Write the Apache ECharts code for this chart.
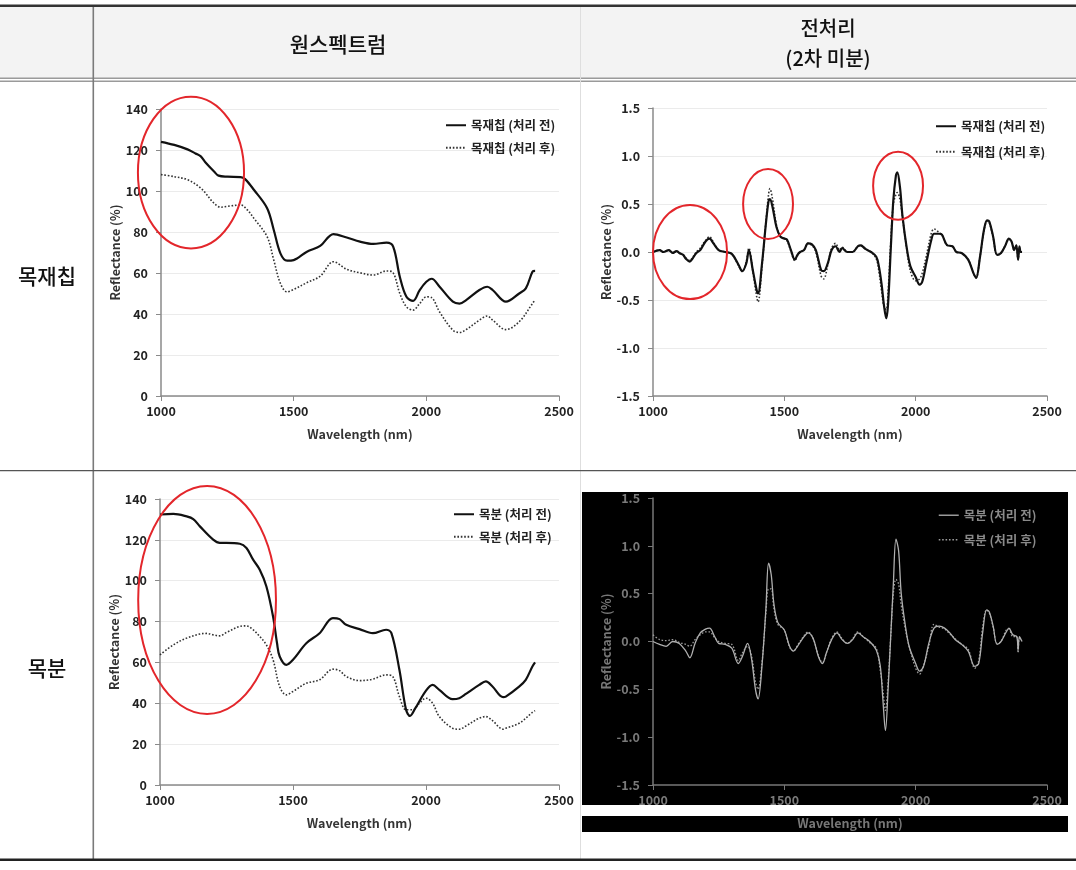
<!DOCTYPE html>
<html><head><meta charset="utf-8">
<script src="https://cdn.jsdelivr.net/npm/echarts@6/dist/echarts.min.js"></script>
<style>html,body{margin:0;padding:0;background:#fff}#c{width:1076px;height:870px}</style>
</head><body><div id="c"></div>
<script>
// ---------- DATA ----------
const colHeaders = ['원스펙트럼', '전처리', '(2차 미분)'];
const rowHeaders = ['목재칩', '목분'];
const xAxisTicks = { min: 1000, max: 2500, interval: 500 };
const rawYTicks = { min: 0, max: 140, interval: 20 };
const derivYTicks = { min: -1.5, max: 1.5, interval: 0.5 };
const seriesNames = ['목재칩 (처리 전)', '목재칩 (처리 후)', '목분 (처리 전)', '목분 (처리 후)'];

// Raw spectrum, wood chip (before)
const chipRawBeforeWl = [1000,1050,1100,1130,1150,1167,1200,1217,1250,1300,1317,1350,1400,1425,1450,1475,1500,1550,1600,1650,1700,1750,1800,1850,1875,1900,1925,1950,1975,2000,2020,2050,2100,2125,2150,2200,2230,2250,2300,2350,2375,2400,2410];
const chipRawBeforeVal = [124,122.5,120.3,118.3,116.9,114,109.5,107.5,107,106.8,105.8,100.6,91.6,81,69.6,66,66.3,70.4,73.2,79,77.3,75.3,74.2,74.8,72.9,58.2,48.4,46.4,51.7,55.7,57.2,53.3,46,45.1,46.8,51.7,53.3,51.7,46,50,52.5,60.6,61];
// Raw spectrum, wood chip (after)
const chipRawAfterWl = [1000,1050,1100,1150,1200,1225,1250,1300,1325,1350,1400,1425,1450,1475,1500,1550,1600,1650,1700,1750,1800,1850,1875,1900,1925,1950,1975,2000,2020,2050,2100,2125,2150,2200,2230,2250,2300,2350,2400,2410];
const chipRawAfterVal = [108,107,105.5,101.4,94,92.1,92.5,93.2,90.8,86.7,77.7,66.3,54.9,50.8,52,55.3,58.5,65.5,61.8,60.1,59,61,60.1,50,43.5,41.9,45.1,48.4,48,41,32.1,31,32.4,37,39,37,32.4,36.2,45.1,47];
// Raw spectrum, wood powder (before)
const powRawBeforeWl = [1000,1050,1100,1125,1150,1200,1225,1250,1300,1325,1350,1375,1400,1425,1440,1450,1475,1500,1550,1600,1650,1675,1700,1750,1800,1850,1870,1900,1925,1940,1960,2000,2025,2050,2100,2125,2150,2200,2225,2250,2290,2300,2350,2375,2400,2410];
const powRawBeforeVal = [132.4,132.7,131.5,130.2,126.6,120.1,118.5,118.5,118.1,116,110.3,105.4,97.2,82.5,69.4,62.9,58.8,61.3,69.4,74.3,81.7,81.2,78.4,76.3,74.3,76,74.3,56.4,36.8,33.8,37.6,46.2,49,46.6,42,42.5,44.6,49,50.7,48.2,43,43.3,48.2,51.5,58,60];
// Raw spectrum, wood powder (after)
const powRawAfterWl = [1000,1050,1100,1150,1175,1200,1225,1250,1300,1325,1350,1375,1400,1425,1450,1475,1500,1550,1600,1650,1675,1700,1750,1800,1850,1875,1900,1925,1950,1975,2000,2025,2050,2100,2125,2150,2200,2225,2250,2290,2300,2350,2400,2410];
const powRawAfterVal = [63.7,68.6,71.9,73.9,74.2,73.5,73,74.7,77.6,77.9,76,72.7,68.6,61.3,48.2,44.1,45.8,49.8,51.5,56.7,56,53.1,51.1,51.8,53.9,53.1,43.3,36.8,36.8,40,42.5,40,33.5,27.8,27.3,28.9,32.7,33.5,31.5,27.3,27.8,30.2,35.5,36.4];

// 2nd derivative, wood chip
const chipDerivWl = [1000,1025,1040,1060,1075,1090,1100,1115,1125,1140,1150,1165,1180,1200,1215,1230,1250,1275,1300,1325,1340,1355,1365,1380,1395,1400,1415,1430,1440,1445,1455,1470,1485,1500,1510,1525,1540,1550,1560,1575,1590,1605,1620,1640,1650,1665,1680,1695,1710,1720,1740,1760,1780,1790,1810,1830,1850,1860,1870,1880,1888,1895,1905,1915,1925,1930,1940,1950,1965,1980,2000,2015,2025,2040,2060,2070,2090,2100,2120,2140,2155,2175,2200,2220,2230,2245,2260,2272,2280,2295,2310,2325,2340,2355,2365,2375,2383,2390,2395,2400,2405];
const chipDerivBefore = [0,0.02,0,0.02,-0.01,0.01,-0.01,-0.03,-0.07,-0.1,-0.07,-0.01,0.02,0.11,0.14,0.09,0.02,0,-0.02,-0.13,-0.2,-0.12,0.02,-0.19,-0.4,-0.43,-0.12,0.3,0.53,0.55,0.47,0.26,0.16,0.14,0.13,0.02,-0.08,-0.03,0,0.02,0.09,0.08,0.02,-0.19,-0.2,-0.12,0.02,0.06,0,0.04,0,0,0.06,0.07,0.03,0,-0.05,-0.15,-0.33,-0.57,-0.69,-0.54,0.02,0.54,0.8,0.83,0.68,0.37,0.06,-0.15,-0.26,-0.34,-0.31,-0.12,0.13,0.19,0.19,0.18,0.07,0.06,0,-0.01,-0.08,-0.22,-0.27,-0.05,0.23,0.33,0.32,0.16,-0.03,-0.01,0.06,0.14,0.11,0.02,0.07,-0.08,0.06,0,0];
const chipDerivAfter = [0,0.02,0,0.02,-0.01,0.01,-0.01,-0.03,-0.06,-0.09,-0.06,0,0.04,0.12,0.16,0.1,0.02,0,-0.02,-0.14,-0.2,-0.1,0.04,-0.2,-0.47,-0.52,-0.15,0.32,0.6,0.66,0.55,0.28,0.16,0.14,0.12,0.01,-0.09,-0.04,0,0.02,0.09,0.07,0,-0.25,-0.28,-0.14,0.04,0.09,0.02,0.05,0,0,0.06,0.07,0.03,0,-0.07,-0.2,-0.4,-0.58,-0.6,-0.42,0.1,0.5,0.6,0.62,0.55,0.36,0.05,-0.2,-0.3,-0.28,-0.22,-0.05,0.2,0.24,0.2,0.18,0.07,0.06,0,-0.01,-0.08,-0.22,-0.27,-0.05,0.22,0.32,0.31,0.15,-0.03,-0.01,0.06,0.13,0.11,0.02,0.07,-0.08,0.05,0,0];

// 2nd derivative, wood powder
const powDerivWl = [1000,1025,1050,1075,1100,1125,1140,1160,1180,1200,1215,1235,1250,1275,1300,1325,1340,1360,1375,1390,1400,1415,1430,1440,1450,1460,1475,1500,1520,1535,1550,1575,1590,1610,1630,1645,1660,1680,1700,1720,1740,1760,1780,1800,1825,1850,1865,1875,1885,1895,1905,1915,1925,1935,1945,1960,1975,2000,2015,2030,2050,2070,2090,2110,2130,2150,2175,2200,2225,2240,2255,2270,2280,2295,2310,2325,2345,2355,2370,2385,2390,2395,2405];
const powDerivBefore = [0,-0.03,-0.05,0,-0.02,-0.1,-0.17,-0.02,0.09,0.13,0.14,0.05,-0.02,-0.03,-0.07,-0.23,-0.16,-0.02,-0.18,-0.5,-0.6,-0.25,0.35,0.82,0.7,0.4,0.2,0.12,-0.05,-0.1,-0.05,0.05,0.09,0.03,-0.16,-0.23,-0.12,0.02,0.09,0.02,-0.02,0.02,0.09,0.05,0,-0.09,-0.25,-0.6,-0.93,-0.5,0.05,0.6,1.07,0.95,0.5,0.18,-0.05,-0.23,-0.31,-0.26,-0.02,0.14,0.16,0.14,0.09,0.02,-0.03,-0.1,-0.26,-0.23,0.09,0.33,0.31,0.16,-0.03,0,0.1,0.14,0.07,0.05,-0.09,0.05,0];
const powDerivAfter = [0.07,0.02,0.01,0.02,-0.01,-0.03,-0.05,0.02,0.07,0.1,0.1,0.04,0,-0.02,-0.03,-0.2,-0.12,-0.05,-0.15,-0.42,-0.5,-0.22,0.3,0.55,0.55,0.35,0.18,0.12,-0.06,-0.1,-0.04,0.06,0.1,0.03,-0.15,-0.22,-0.12,0.03,0.1,0.03,-0.02,0.03,0.1,0.05,-0.01,-0.07,-0.3,-0.5,-0.72,-0.42,0.05,0.5,0.65,0.6,0.38,0.14,-0.05,-0.28,-0.34,-0.25,-0.05,0.18,0.15,0.13,0.08,0.03,-0.03,-0.08,-0.28,-0.2,0.15,0.33,0.3,0.15,-0.02,0,0.12,0.13,0.05,0.05,-0.12,0.03,0.02];

// Highlight ellipses (data units of each panel)
const highlightEllipses = [
  { grid: 0, cx: 1113, cy: 109, rx: 200, ry: 37 },
  { grid: 1, cx: 1141, cy: 0.0, rx: 141, ry: 0.49 },
  { grid: 1, cx: 1438, cy: 0.5, rx: 95, ry: 0.365 },
  { grid: 1, cx: 1933, cy: 0.69, rx: 95, ry: 0.355 },
  { grid: 2, cx: 1177, cy: 90.6, rx: 259, ry: 55.8 }
];

// ---------- CHART ----------
const FF = '"Noto Sans CJK KR", "Noto Sans", sans-serif';
const pairs = (xs, ys) => xs.map((x, i) => [x, ys[i]]);
const chart = echarts.init(document.getElementById('c'), null, { renderer: 'canvas' });

const grids = [
  { left: 161, width: 398, top: 109, height: 287 },
  { left: 653, width: 394, top: 108, height: 288 },
  { left: 160, width: 399, top: 499, height: 286 },
  { left: 653, width: 394, top: 498, height: 287 }
];

function xAx(gi, dark) {
  const c = dark ? '#7a7a7a' : '#222';
  return {
    type: 'value', gridIndex: gi, min: xAxisTicks.min, max: xAxisTicks.max, interval: xAxisTicks.interval,
    axisLine: { show: true, onZero: false, lineStyle: { color: dark ? '#777' : '#8a8a8a', width: 1.5 } },
    axisTick: { show: true, length: 5, lineStyle: { color: dark ? '#777' : '#8a8a8a' } },
    splitLine: { show: false },
    axisLabel: { margin: 9, color: c, fontWeight: 'bold', fontSize: 12.5, fontFamily: FF, formatter: v => String(v) },
    name: 'Wavelength (nm)', nameLocation: 'middle', nameGap: 32,
    nameTextStyle: { color: dark ? '#777' : '#333', fontWeight: 'bold', fontSize: 12.5, fontFamily: FF }
  };
}
function yAx(gi, ticks, dark, deriv) {
  const c = dark ? '#7a7a7a' : '#222';
  return {
    type: 'value', gridIndex: gi, min: ticks.min, max: ticks.max, interval: ticks.interval,
    axisLine: { show: true, onZero: false, lineStyle: { color: dark ? '#777' : '#8a8a8a', width: 1.5 } },
    axisTick: { show: true, length: 5, lineStyle: { color: dark ? '#777' : '#8a8a8a' } },
    splitLine: { show: !dark, lineStyle: { color: '#ebebeb', width: 1 } },
    axisLabel: { margin: 13, color: c, fontWeight: 'bold', fontSize: 12.5, fontFamily: FF,
      formatter: v => deriv ? v.toFixed(1) : String(v) },
    name: 'Reflectance (%)', nameLocation: 'middle', nameGap: 38, nameRotate: 90,
    nameTextStyle: { color: dark ? '#777' : '#333', fontWeight: 'bold', fontSize: 12.5, fontFamily: FF }
  };
}
function lineSeries(name, gi, data, dotted, dark) {
  const col = dark ? (dotted ? '#9a9a9a' : '#b0b0b0') : (dotted ? '#333' : '#111');
  return {
    name, type: 'line', xAxisIndex: gi, yAxisIndex: gi, data, symbol: 'none', smooth: 0.35,
    lineStyle: { color: col, width: dark ? 1.3 : (dotted ? 1.6 : 2.2), type: dotted ? [1.6, 1.8] : 'solid' },
    itemStyle: { color: col }, z: dotted ? 3 : 4
  };
}
function legend(left, top, names, dark, gap) {
  return {
    show: true, orient: 'vertical', left, top, itemWidth: 20, itemHeight: 10, itemGap: gap,
    selectedMode: false,
    itemStyle: { opacity: 0, color: 'rgba(0,0,0,0)', borderWidth: 0 },
    data: names.map((n, i) => dark ? { name: n, lineStyle: { color: '#9a9a9a', width: 1.5, type: i ? [1.6, 1.8] : 'solid' } } : n),
    textStyle: { color: dark ? '#8a8a8a' : '#222', fontWeight: 'bold', fontSize: 12.5, fontFamily: FF }
  };
}

chart.setOption({
  animation: false,
  backgroundColor: '#fff',
  grid: grids,
  xAxis: [xAx(0), xAx(1), xAx(2), xAx(3, true)],
  yAxis: [yAx(0, rawYTicks), yAx(1, derivYTicks, false, true), yAx(2, rawYTicks), yAx(3, derivYTicks, true, true)],
  legend: [
    legend(440, 114, [seriesNames[0], seriesNames[1]], false, 10),
    legend(930, 115, [seriesNames[0], seriesNames[1]], false, 13),
    legend(448, 503, [seriesNames[2], seriesNames[3]], false, 10),
    legend(933, 504, [seriesNames[2], seriesNames[3]], true, 12)
  ],
  series: [
    lineSeries(seriesNames[0], 0, pairs(chipRawBeforeWl, chipRawBeforeVal), false),
    lineSeries(seriesNames[1], 0, pairs(chipRawAfterWl, chipRawAfterVal), true),
    lineSeries(seriesNames[2], 2, pairs(powRawBeforeWl, powRawBeforeVal), false),
    lineSeries(seriesNames[3], 2, pairs(powRawAfterWl, powRawAfterVal), true),
    lineSeries(seriesNames[0], 1, pairs(chipDerivWl, chipDerivBefore), false),
    lineSeries(seriesNames[1], 1, pairs(chipDerivWl, chipDerivAfter), true),
    lineSeries(seriesNames[2], 3, pairs(powDerivWl, powDerivBefore), false, true),
    lineSeries(seriesNames[3], 3, pairs(powDerivWl, powDerivAfter), true, true)
  ]
});

// table frame + annotations
const g = [];
const rect = (x, y, w, h, fill, z) => ({ type: 'rect', z: z || -50, silent: true, shape: { x, y, width: w, height: h }, style: { fill } });
g.push(rect(0, 7, 1076, 71, '#f3f3f3', -60));
g.push(rect(582, 492, 486, 313, '#000', -55));
g.push(rect(582, 816, 486, 16, '#000', -55));
g.push(rect(0, 4.5, 1076, 2.5, '#333'));
g.push(rect(0, 77.5, 1076, 1.5, '#9a9a9a'));
g.push(rect(0, 80.5, 1076, 1.5, '#9a9a9a'));
g.push(rect(580, 7, 1, 852, '#dedede'));
g.push(rect(92.5, 7, 1.6, 852, '#7a7a7a'));
g.push(rect(0, 470, 1076, 1.2, '#555'));
g.push(rect(0, 858.5, 1076, 2.5, '#222'));
const txt = (text, x, y, size) => ({ type: 'text', z: 10, silent: true, x, y,
  style: { text, fontSize: size, fontFamily: FF, fontWeight: 500, fill: '#111', align: 'center', verticalAlign: 'middle' } });
g.push(txt(colHeaders[0], 338, 44, 21));
g.push(txt(colHeaders[1], 828, 28, 20));
g.push(txt(colHeaders[2], 828, 58, 20));
g.push(txt(rowHeaders[0], 47, 276, 21));
g.push(txt(rowHeaders[1], 47, 668, 21));
highlightEllipses.forEach(e => {
  const c = chart.convertToPixel({ gridIndex: e.grid }, [e.cx, e.cy]);
  const p = chart.convertToPixel({ gridIndex: e.grid }, [e.cx + e.rx, e.cy + e.ry]);
  g.push({ type: 'ellipse', z: 100, silent: true,
    shape: { cx: c[0], cy: c[1], rx: Math.abs(p[0] - c[0]), ry: Math.abs(c[1] - p[1]) },
    style: { fill: null, stroke: '#e3262b', lineWidth: 2 } });
});
chart.setOption({ graphic: g });
</script></body></html>
